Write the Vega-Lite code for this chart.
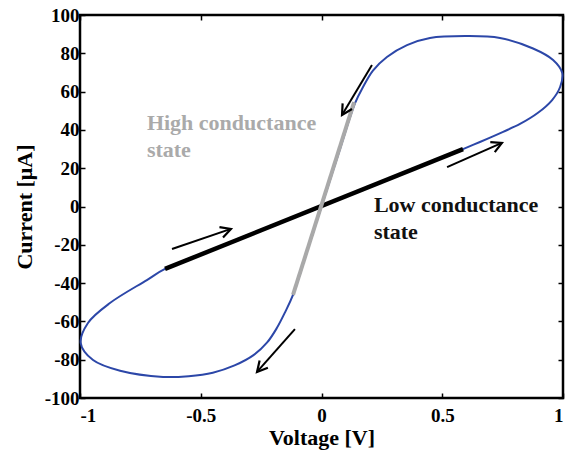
{
  "$schema": "https://vega.github.io/schema/vega-lite/v6.json",
  "width": 483,
  "height": 383,
  "autosize": {"type": "none"},
  "padding": {"left": 80, "top": 15, "right": 4, "bottom": 56},
  "background": "white",
  "config": {
    "view": {"stroke": "black", "strokeWidth": 2.5},
    "axis": {
      "labelFont": "Liberation Serif",
      "labelFontWeight": "bold",
      "labelFontSize": 19,
      "labelColor": "black",
      "titleFont": "Liberation Serif",
      "titleFontWeight": "bold",
      "titleFontSize": 22,
      "titleColor": "black",
      "domain": false,
      "grid": false,
      "tickColor": "black",
      "tickWidth": 1.5,
      "tickSize": -5
    }
  },
  "datasets": {
    "loop": [
      {"i": 0, "v": 0, "c": 0},
      {"i": 1, "v": 0.07, "c": 27.5},
      {"i": 2, "v": 0.139, "c": 54.0},
      {"i": 3, "v": 0.172, "c": 62.4},
      {"i": 4, "v": 0.213, "c": 71.0},
      {"i": 5, "v": 0.271, "c": 78.1},
      {"i": 6, "v": 0.354, "c": 84.3},
      {"i": 7, "v": 0.449, "c": 88.0},
      {"i": 8, "v": 0.602, "c": 89.0},
      {"i": 9, "v": 0.739, "c": 88.0},
      {"i": 10, "v": 0.876, "c": 82.5},
      {"i": 11, "v": 0.959, "c": 76.5},
      {"i": 12, "v": 0.997, "c": 69.7},
      {"i": 13, "v": 0.988, "c": 62.4},
      {"i": 14, "v": 0.955, "c": 55.6},
      {"i": 15, "v": 0.895, "c": 48.8},
      {"i": 16, "v": 0.822, "c": 43.1},
      {"i": 17, "v": 0.752, "c": 39.0},
      {"i": 18, "v": 0.656, "c": 33.7},
      {"i": 19, "v": 0.586, "c": 30.0},
      {"i": 20, "v": 0.3, "c": 15.3},
      {"i": 21, "v": 0, "c": 0},
      {"i": 22, "v": -0.3, "c": -15.1},
      {"i": 23, "v": -0.648, "c": -32.6},
      {"i": 24, "v": -0.723, "c": -38.4},
      {"i": 25, "v": -0.876, "c": -50.4},
      {"i": 26, "v": -0.967, "c": -60.8},
      {"i": 27, "v": -0.997, "c": -71.3},
      {"i": 28, "v": -0.946, "c": -80.2},
      {"i": 29, "v": -0.834, "c": -85.8},
      {"i": 30, "v": -0.656, "c": -89.0},
      {"i": 31, "v": -0.55, "c": -88.6},
      {"i": 32, "v": -0.45, "c": -86.8},
      {"i": 33, "v": -0.36, "c": -83.0},
      {"i": 34, "v": -0.28, "c": -77.5},
      {"i": 35, "v": -0.225, "c": -71.0},
      {"i": 36, "v": -0.185, "c": -63.5},
      {"i": 37, "v": -0.15, "c": -55.0},
      {"i": 38, "v": -0.118, "c": -46.2},
      {"i": 39, "v": -0.06, "c": -23.5},
      {"i": 40, "v": 0, "c": 0}
    ],
    "low": [
      {"v": -0.648, "c": -32.6},
      {"v": 0.586, "c": 30.0}
    ],
    "high": [
      {"v": -0.118, "c": -46.2},
      {"v": 0.135, "c": 54.5}
    ],
    "arrows": [
      {"v": 0.209, "c": 73.9, "v2": 0.085, "c2": 47.8, "angle": 211},
      {"v": 0.520, "c": 20.6, "v2": 0.747, "c2": 33.2, "angle": 66},
      {"v": -0.619, "c": -22.2, "v2": -0.375, "c2": -11.7, "angle": 71},
      {"v": -0.110, "c": -64.0, "v2": -0.267, "c2": -86.4, "angle": 221}
    ],
    "labels": [
      {"v": -0.723, "c": 39.9, "t": "High conductance\nstate", "kind": "high"},
      {"v": 0.217, "c": -2.9, "t": "Low conductance\nstate", "kind": "low"}
    ]
  },
  "layer": [
    {
      "data": {"name": "loop"},
      "mark": {"type": "line", "color": "#2c47a8", "strokeWidth": 2, "interpolate": "catmull-rom"},
      "encoding": {
        "x": {
          "field": "v", "type": "quantitative",
          "scale": {"domain": [-1, 1], "nice": false, "zero": false},
          "axis": {
            "values": [-1, -0.5, 0, 0.5, 1],
            "title": "Voltage [V]",
            "labelPadding": 13,
            "titlePadding": 2,
            "labelExpr": "datum.value < 0 ? '-' + format(-datum.value, '~g') : format(datum.value, '~g')"
          }
        },
        "y": {
          "field": "c", "type": "quantitative",
          "scale": {"domain": [-100, 100], "nice": false, "zero": false},
          "axis": {
            "values": [-100, -80, -60, -40, -20, 0, 20, 40, 60, 80, 100],
            "title": "Current  [μA]",
            "labelPadding": 6,
            "titlePadding": 8,
            "labelExpr": "datum.value < 0 ? '-' + format(-datum.value, '~g') : format(datum.value, '~g')"
          }
        },
        "order": {"field": "i", "type": "quantitative"}
      }
    },
    {
      "data": {"name": "low"},
      "mark": {"type": "line", "color": "black", "strokeWidth": 4.5},
      "encoding": {
        "x": {"field": "v", "type": "quantitative", "axis": null},
        "y": {"field": "c", "type": "quantitative", "axis": null}
      }
    },
    {
      "data": {"name": "high"},
      "mark": {"type": "line", "color": "#a9a9a9", "strokeWidth": 4},
      "encoding": {
        "x": {"field": "v", "type": "quantitative", "axis": null},
        "y": {"field": "c", "type": "quantitative", "axis": null}
      }
    },
    {
      "data": {"name": "arrows"},
      "mark": {"type": "rule", "color": "black", "strokeWidth": 2},
      "encoding": {
        "x": {"field": "v", "type": "quantitative", "axis": null},
        "y": {"field": "c", "type": "quantitative", "axis": null},
        "x2": {"field": "v2"},
        "y2": {"field": "c2"}
      }
    },
    {
      "data": {"name": "arrows"},
      "mark": {"type": "point", "shape": "M -0.48 0.9 L 0 0 L 0.48 0.9", "filled": false, "color": "black", "strokeWidth": 2.2, "size": 520, "opacity": 1},
      "encoding": {
        "x": {
          "field": "v2", "type": "quantitative",
          "axis": {"orient": "top", "values": [-1, -0.5, 0, 0.5, 1], "labels": false, "title": null}
        },
        "y": {
          "field": "c2", "type": "quantitative",
          "axis": {"orient": "right", "values": [-100, -80, -60, -40, -20, 0, 20, 40, 60, 80, 100], "labels": false, "title": null}
        },
        "angle": {"field": "angle", "type": "quantitative", "scale": null}
      }
    },
    {
      "data": {"name": "labels"},
      "mark": {"type": "text", "align": "left", "baseline": "alphabetic", "font": "Liberation Serif", "fontWeight": "bold", "fontSize": 22, "lineBreak": "\n", "lineHeight": 27},
      "encoding": {
        "x": {"field": "v", "type": "quantitative", "axis": null},
        "y": {"field": "c", "type": "quantitative", "axis": null},
        "text": {"field": "t"},
        "color": {"field": "kind", "type": "nominal", "scale": {"domain": ["high", "low"], "range": ["#aaaaaa", "#111111"]}, "legend": null}
      }
    }
  ],
  "resolve": {"axis": {"x": "independent", "y": "independent"}}
}
